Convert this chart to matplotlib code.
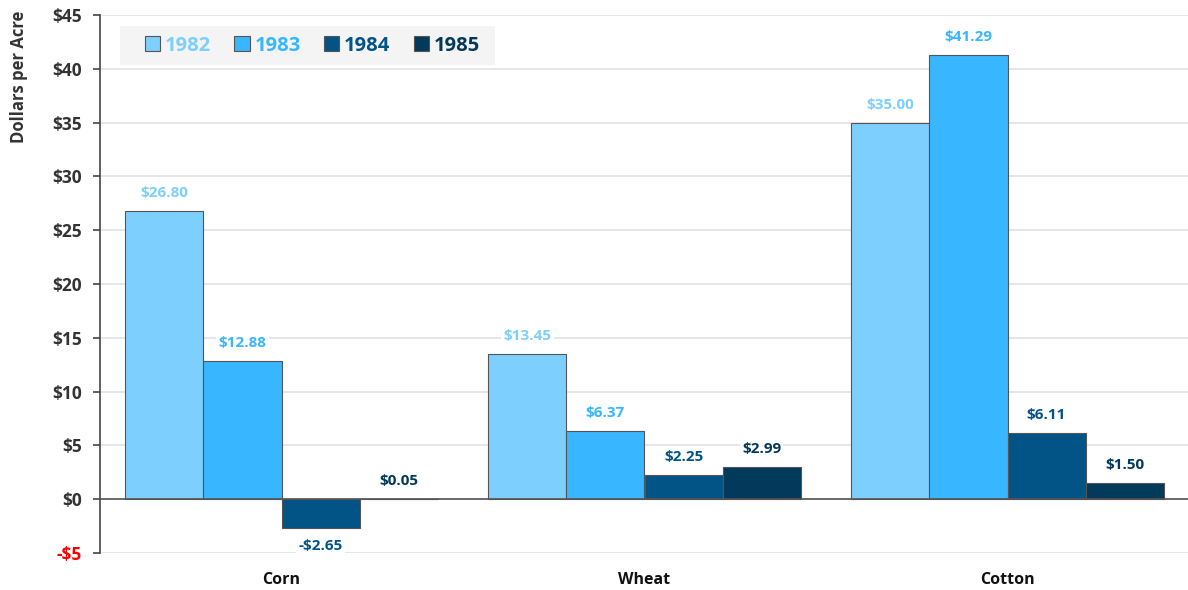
import matplotlib
matplotlib.use("Agg")
import matplotlib.pyplot as plt
import numpy as np
from matplotlib.patches import Patch, Rectangle

categories = ["Corn", "Wheat", "Cotton"]
years = ["1982", "1983", "1984", "1985"]
values = {
    "1982": [26.80, 13.45, 35.00],
    "1983": [12.88, 6.37, 41.29],
    "1984": [-2.65, 2.25, 6.11],
    "1985": [0.05, 2.99, 1.50],
}
colors = ["#7DCFFD", "#38B6FF", "#025487", "#03395A"]
yticks = [-5, 0, 5, 10, 15, 20, 25, 30, 35, 40, 45]

FONT = ['Open Sans', 'DejaVu Sans']
plt.rcParams['font.family'] = FONT

fig = plt.figure(figsize=(11.88, 5.90), dpi=100)
ax = fig.add_axes([100/1188, 1-553/590, 1089/1188, 538/590])

x = np.arange(len(categories))
w = 0.215
for i, yr in enumerate(years):
    pos = x + (i - 1.5) * w
    bars = ax.bar(pos, values[yr], width=w, color=colors[i], edgecolor="#555555",
                  linewidth=0.8, zorder=3)
    for b, v in zip(bars, values[yr]):
        off = 13 if v >= 0 else -13
        ax.annotate(f"{'-' if v < 0 else ''}${abs(v):.2f}",
                    (b.get_x() + b.get_width()/2, v), xytext=(0, off),
                    textcoords="offset points", ha="center", va="center",
                    fontsize=11, fontweight="bold", color=colors[i], zorder=4,
                    bbox=dict(boxstyle="square,pad=0.15", fc="white", ec="none"))

ax.set_xlim(-0.5, 2.5)
ax.set_ylim(-5, 45)
ax.set_yticks(yticks)
ax.set_yticklabels([f"-${abs(t)}" if t < 0 else f"${t}" for t in yticks],
                   fontsize=12.5, fontweight="bold", color="#333333")
ax.get_yticklabels()[0].set_color("#FF0000")
ax.set_xticks(x)
ax.set_xticklabels(categories, fontsize=11.5, fontweight="bold", color="#111111")
ax.tick_params(axis="x", length=0, pad=14)
ax.tick_params(axis="y", length=5, width=1.2, color="#444444", pad=8)

ax.grid(axis="y", color="#E3E3E3", linewidth=1.2, zorder=0)
for s in ["top", "right", "bottom"]:
    ax.spines[s].set_visible(False)
ax.spines["left"].set_color("#444444")
ax.spines["left"].set_linewidth(1.2)
ax.axhline(0, color="#555555", linewidth=1.2, zorder=3.5)

ax.set_ylabel("Dollars per Acre", fontsize=12, fontweight="bold", color="#333333")
ax.yaxis.set_label_coords(-0.066, 0.885)

# legend background panel
ax.add_patch(Rectangle((0.0184, 0.907), 0.344, 0.0726, transform=ax.transAxes,
                       facecolor="#F4F4F4", edgecolor="none", zorder=4.5))
handles = [Patch(facecolor=c, edgecolor="#555555", linewidth=0.8) for c in colors]
leg = ax.legend(handles, years, loc="center left", bbox_to_anchor=(0.0413, 0.943), ncol=4,
                frameon=False, handlelength=0.75, handleheight=0.75, handletextpad=0.25,
                columnspacing=1.15, borderpad=0.0, borderaxespad=0.0,
                prop=dict(family=FONT, size=14.5, weight="bold"),
                labelcolor=colors)
leg.set_zorder(5)

fig.savefig("out.png", dpi=100, facecolor="white")
